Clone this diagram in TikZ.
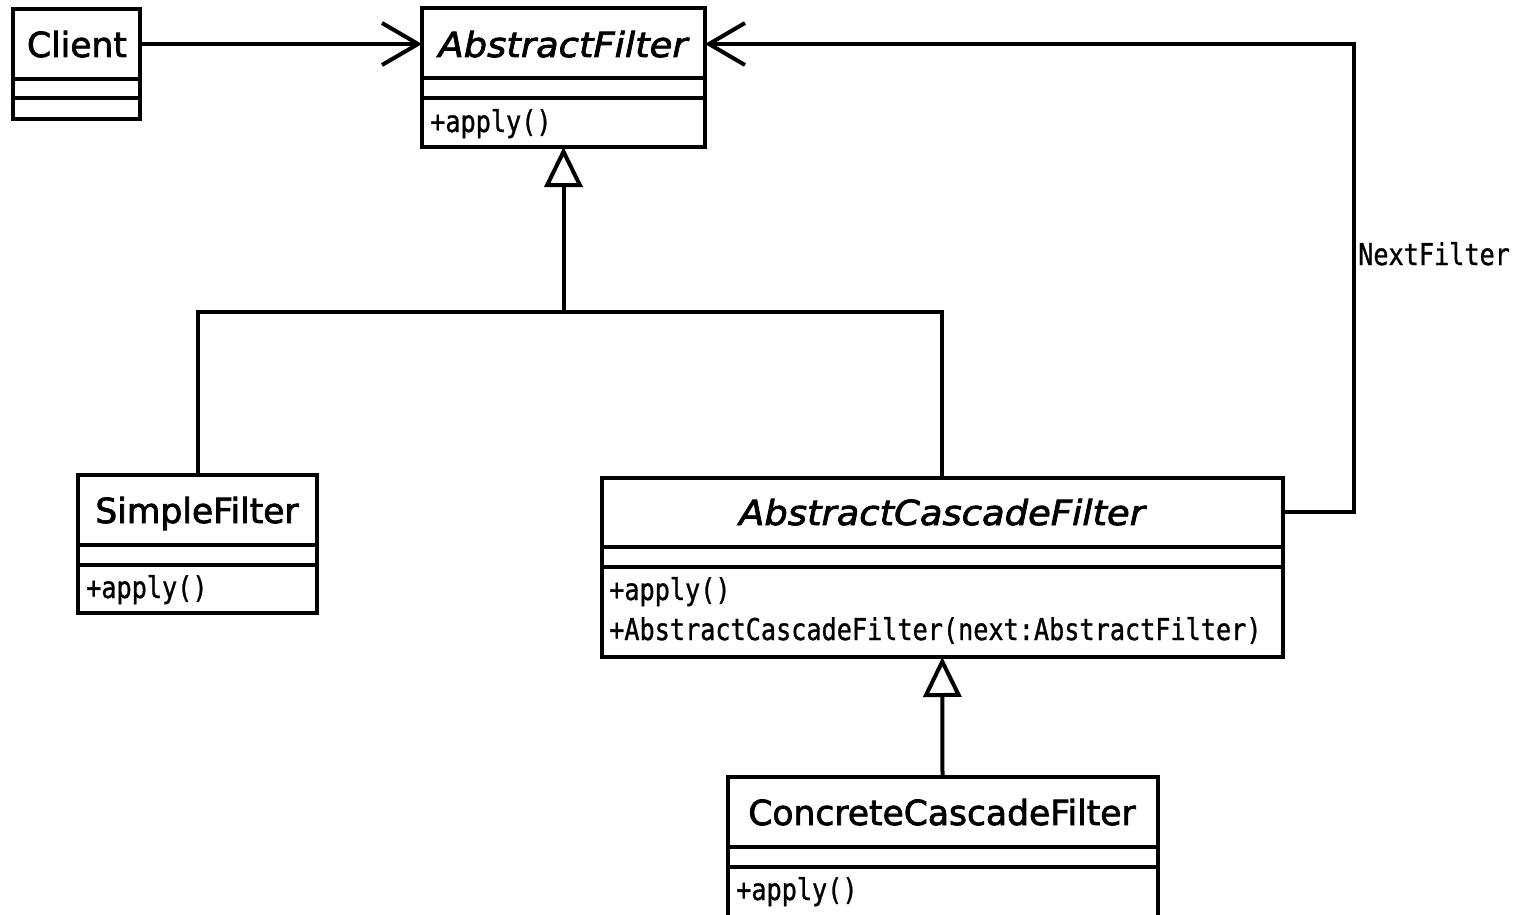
\documentclass[tikz,border=0pt]{standalone}
\usepackage{fontspec}
\setmainfont{DejaVu Sans}
\newfontfamily\titlef[FakeBold=2.2]{DejaVu Sans}
\newfontfamily\oblf[FakeStretch=1.07,FakeBold=2.2]{DejaVu Sans}
\newfontfamily\monof[FakeStretch=0.84,FakeBold=1]{DejaVu Sans Mono}
\usetikzlibrary{arrows.meta}
\begin{document}
\begin{tikzpicture}[x=1pt,y=-1pt,
  cls/.style={draw, line width=4pt, inner sep=0pt, outer sep=0pt, anchor=north west},
  sepline/.style={line width=3.5pt},
  conn/.style={line width=4pt},
  assoc/.style={conn, -{Straight Barb[length=36pt,width=42pt,line width=4pt]}},
  gen/.style={conn, -{Triangle[open,length=40pt,width=38pt,line width=4pt]}},
  ttl/.style={font=\titlef\fontsize{34.5}{40}\selectfont, inner sep=0pt, anchor=base},
  ittl/.style={font=\oblf\itshape\fontsize{34.5}{40}\selectfont, inner sep=0pt, anchor=base},
  meth/.style={font=\monof\fontsize{30}{36}\selectfont, inner sep=0pt, anchor=base west},
]
\useasboundingbox[fill=white] (0,0) rectangle (1523,915);

% class boxes
\node[cls, minimum width=127pt, minimum height=110pt] (client) at (13,9) {};
\draw[sepline] (client.west |- 0,79) -- (client.east |- 0,79);
\draw[sepline] (client.west |- 0,98) -- (client.east |- 0,98);

\node[cls, minimum width=283pt, minimum height=139pt] (af) at (422,8) {};
\draw[sepline] (af.west |- 0,78) -- (af.east |- 0,78);
\draw[sepline] (af.west |- 0,98) -- (af.east |- 0,98);

\node[cls, minimum width=239pt, minimum height=138pt] (sf) at (78,475) {};
\draw[sepline] (sf.west |- 0,545) -- (sf.east |- 0,545);
\draw[sepline] (sf.west |- 0,565) -- (sf.east |- 0,565);

\node[cls, minimum width=681.5pt, minimum height=179pt] (acf) at (601.5,478) {};
\draw[sepline] (acf.west |- 0,547) -- (acf.east |- 0,547);
\draw[sepline] (acf.west |- 0,567) -- (acf.east |- 0,567);

\node[cls, minimum width=430pt, minimum height=142pt] (ccf) at (727.5,777) {};
\draw[sepline] (ccf.west |- 0,847) -- (ccf.east |- 0,847);
\draw[sepline] (ccf.west |- 0,867) -- (ccf.east |- 0,867);

% texts
\node[ttl] (clientT) at (77,57) {Client};
\node[ittl] (afT) at (563,57) {AbstractFilter};
\node[meth] (afM) at (430,132) {+apply()};
\node[ttl] (sfT) at (197,523) {SimpleFilter};
\node[meth] (sfM) at (86,598) {+apply()};
\node[ittl] (acfT) at (942,525) {AbstractCascadeFilter};
\node[meth] (acfM1) at (609,600) {+apply()};
\node[meth] (acfM2) at (609,640) {+AbstractCascadeFilter(next:AbstractFilter)};
\node[ttl] (ccfT) at (942,825) {ConcreteCascadeFilter};
\node[meth] (ccfM) at (736,900) {+apply()};
\node[meth] (nfL) at (1358,265) {NextFilter};

% connectors
\coordinate (j) at (af.south |- 0,312);
\coordinate (nf) at (1354,44);
\draw[assoc] (client.east |- nf) -- (af.west |- nf);
\draw[gen] (j) -- (af.south);
\draw[conn] (sf.north) |- (j) -| (acf.north);
\draw[gen] (ccf.north) -- (acf.south);
\draw[assoc] (acf.east |- 0,512) -| (nf) -- (af.east |- nf);
\end{tikzpicture}
\end{document}
